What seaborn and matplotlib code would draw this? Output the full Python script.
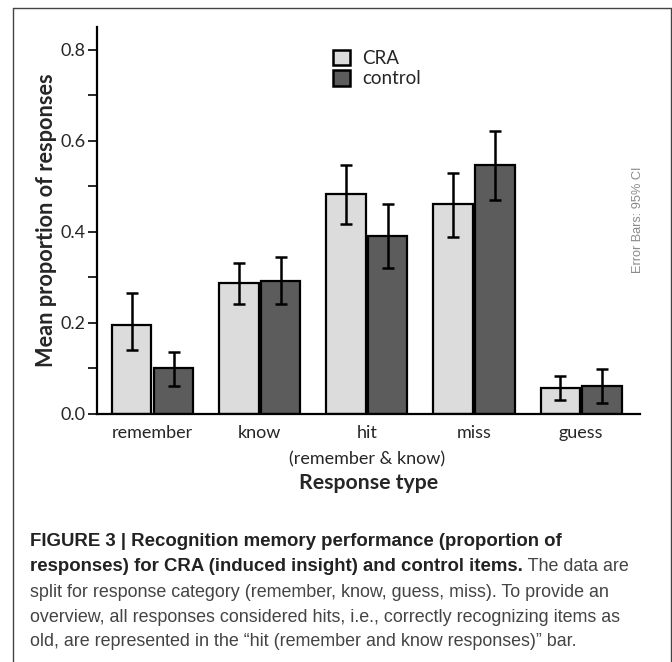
import matplotlib
matplotlib.use('Agg')
import matplotlib.pyplot as plt
from matplotlib.lines import Line2D
from matplotlib.patches import Patch
from matplotlib.ticker import MultipleLocator, FormatStrFormatter
import seaborn as sns
import pandas as pd

# data
categories = ['remember', 'know', 'hit\n(remember & know)', 'miss', 'guess']
conditions = ['CRA', 'control']
cra_mean = [0.196, 0.288, 0.483, 0.461, 0.058]
cra_lo   = [0.140, 0.242, 0.417, 0.389, 0.031]
cra_hi   = [0.266, 0.332, 0.547, 0.530, 0.084]
ctl_mean = [0.101, 0.292, 0.392, 0.547, 0.062]
ctl_lo   = [0.062, 0.242, 0.321, 0.470, 0.025]
ctl_hi   = [0.136, 0.345, 0.462, 0.622, 0.099]

LIGHT = '#dcdcdc'
DARK = '#5c5c5c'
TICK_FONT = 'Lato'
CAP_FONT = 'Liberation Sans'
CAP_BOLD = 13.4
CAP_REG = 12.9

df = pd.DataFrame({
    'type': categories * 2,
    'cond': ['CRA'] * 5 + ['control'] * 5,
    'mean': cra_mean + ctl_mean,
    'lo': cra_lo + ctl_lo,
    'hi': cra_hi + ctl_hi,
})

sns.set_style('white')
plt.rcParams['font.family'] = TICK_FONT

fig = plt.figure(figsize=(6.72, 6.62), dpi=100)
ax = fig.add_axes([97 / 672, 1 - 414 / 662, 543 / 672, 387 / 662])

sns.barplot(data=df, x='type', y='mean', hue='cond', order=categories,
            hue_order=conditions, palette=[LIGHT, DARK], errorbar=None,
            width=0.78, gap=0.06, edgecolor='black', linewidth=1.6,
            legend=False, ax=ax)

# error bars at the bar centres
for cont, cond in zip(ax.containers, conditions):
    sub = df[df['cond'] == cond].set_index('type').loc[categories]
    xs = [p.get_x() + p.get_width() / 2 for p in cont.patches]
    ax.errorbar(xs, sub['mean'],
                yerr=[sub['mean'] - sub['lo'], sub['hi'] - sub['mean']],
                fmt='none', ecolor='black', elinewidth=1.8, capsize=4,
                capthick=1.8, zorder=5)

ax.set_xlim(-0.52, 4.55)
ax.set_ylim(0, 0.85)
ax.yaxis.set_major_locator(MultipleLocator(0.2))
ax.yaxis.set_minor_locator(MultipleLocator(0.1))
ax.yaxis.set_major_formatter(FormatStrFormatter('%.1f'))
ax.tick_params(axis='y', which='both', direction='out', length=6.5, width=1.4,
               left=True, labelsize=13, pad=2)
ax.tick_params(axis='x', length=0, labelsize=13, pad=8)
for lbl in ax.get_xticklabels():
    lbl.set_linespacing(1.78)
for s in ['top', 'right']:
    ax.spines[s].set_visible(False)
for s in ['left', 'bottom']:
    ax.spines[s].set_linewidth(1.6)
    ax.spines[s].set_color('black')

ax.set_xlabel('Response type', fontsize=15.3, fontweight='bold')
ax.xaxis.set_label_coords(0.5, -0.153)
ax.set_ylabel('Mean proportion of responses', fontsize=15.7, fontweight='bold')
ax.yaxis.set_label_coords(-0.074, 0.5)

handles = [Patch(facecolor=LIGHT, edgecolor='black', linewidth=1.8),
           Patch(facecolor=DARK, edgecolor='black', linewidth=1.8)]
ax.legend(handles, conditions, loc='upper left', bbox_to_anchor=(0.417, 0.965),
          frameon=False, fontsize=13.5, handlelength=0.9, handleheight=0.9,
          handletextpad=0.65, labelspacing=0.15, borderpad=0)

ax.text(0.996, 0.501, 'Error Bars: 95% CI', transform=ax.transAxes,
        rotation=90, ha='center', va='center', fontsize=9.2, color='#8a8a8a',
        family='Liberation Sans')

# figure frame (no bottom edge)
fx0, fx1, fy1 = 13 / 672, 670.5 / 672, 1 - 8 / 662
for xs_, ys_ in [([fx0, fx0], [0, fy1]), ([fx0, fx1], [fy1, fy1]),
                 ([fx1, fx1], [fy1, 0])]:
    fig.add_artist(Line2D(xs_, ys_, transform=fig.transFigure,
                          color='#444444', lw=1))

# caption
cx = 30 / 672
fig.text(cx, 1 - 546 / 662, 'FIGURE 3 | Recognition memory performance (proportion of',
         fontsize=CAP_BOLD, fontweight='bold', family=CAP_FONT, color='#222222',
         va='baseline')
t2 = fig.text(cx, 1 - 571 / 662, 'responses) for CRA (induced insight) and control items.',
              fontsize=CAP_BOLD, fontweight='bold', family=CAP_FONT, color='#222222',
              va='baseline')
ax.annotate(' The data are', xy=(1, 0), xycoords=t2, va='bottom',
            fontsize=CAP_REG, family=CAP_FONT, color='#444444',
            annotation_clip=False)
rest = ['split for response category (remember, know, guess, miss). To provide an',
        'overview, all responses considered hits, i.e., correctly recognizing items as',
        'old, are represented in the \u201chit (remember and know responses)\u201d bar.']
for i, line in enumerate(rest):
    fig.text(cx, 1 - (597 + 24.5 * i) / 662, line, fontsize=CAP_REG,
             family=CAP_FONT, color='#444444', va='baseline')

fig.savefig('out.png', dpi=100)
